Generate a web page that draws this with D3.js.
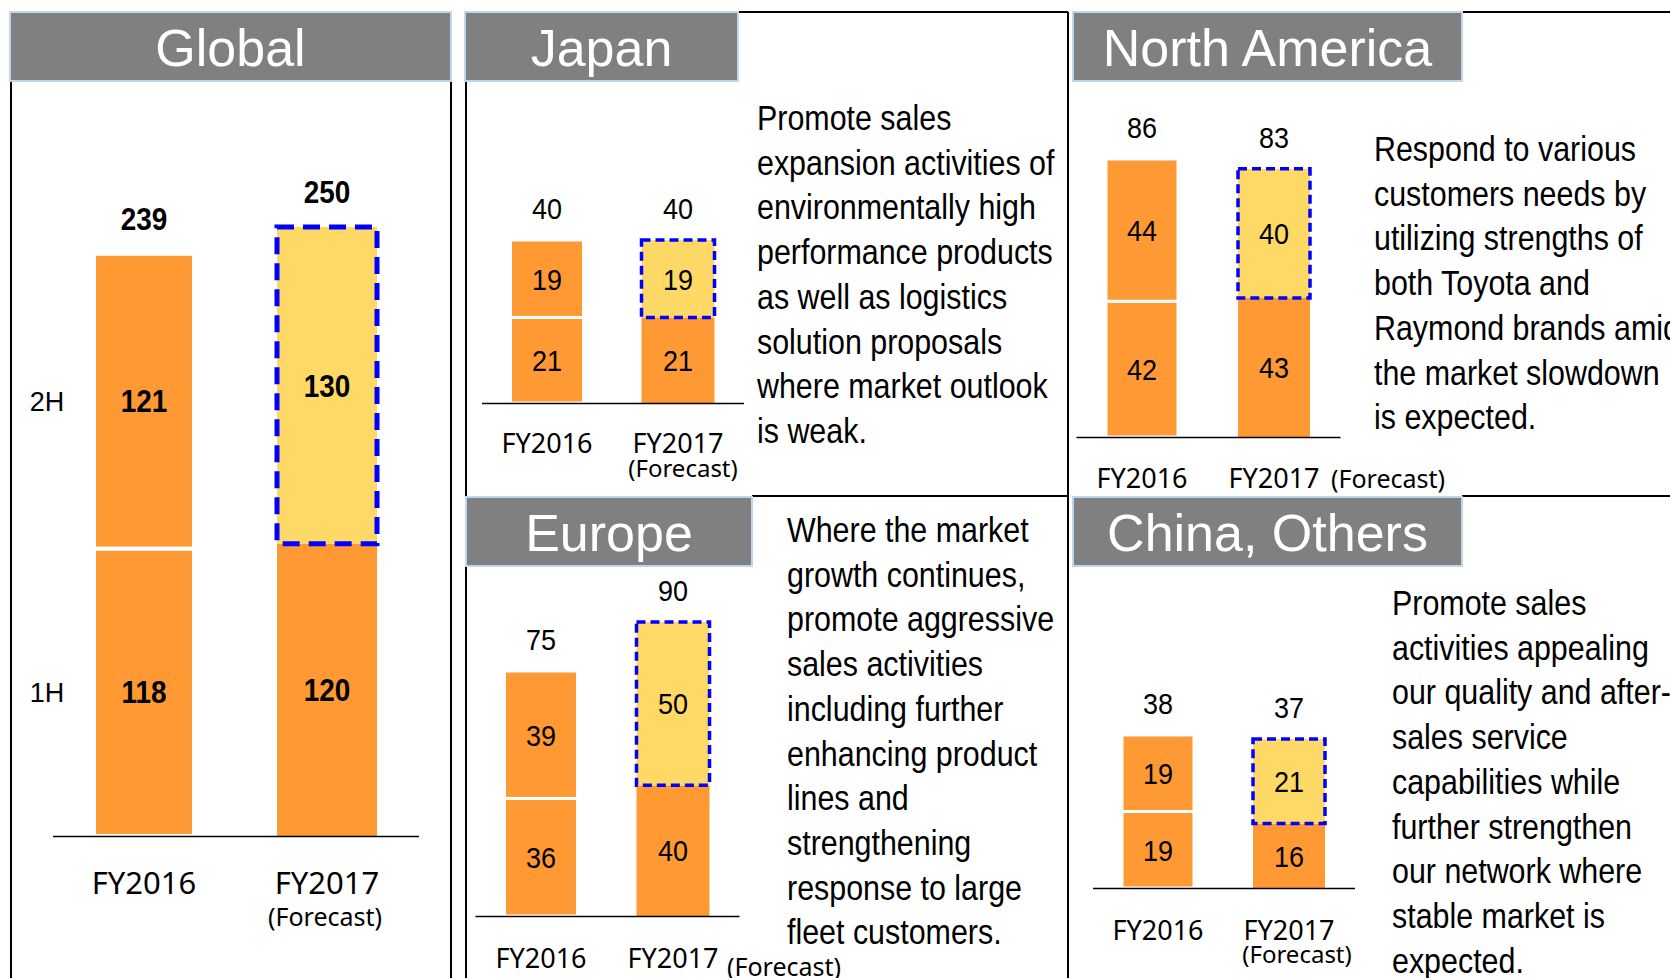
<!DOCTYPE html>
<html>
<head>
<meta charset="utf-8">
<script src="https://cdn.jsdelivr.net/npm/d3@7"></script>
<style>
  body { margin: 0; background: #fff; }
  svg { display: block; }
</style>
</head>
<body>
<div class="canva"></div>
<script>
// values (thousand units)
const regions = ["Global", "Japan", "North America", "Europe", "China, Others"];
const years = ["FY2016", "FY2017"];
const firstHalf = [[118, 120], [21, 21], [42, 43], [36, 40], [19, 16]];
const secondHalf = [[121, 130], [19, 19], [44, 40], [39, 50], [19, 21]];
const halfLabels = ["1H", "2H"];
const forecastLabel = "(Forecast)";
const notes = [
  [],
  ["Promote sales", "expansion activities of", "environmentally high", "performance products",
   "as well as logistics", "solution proposals", "where market outlook", "is weak."],
  ["Respond to various", "customers needs by", "utilizing strengths of", "both Toyota and",
   "Raymond brands amid", "the market slowdown", "is expected."],
  ["Where the market", "growth continues,", "promote aggressive", "sales activities",
   "including further", "enhancing product", "lines and", "strengthening",
   "response to large", "fleet customers."],
  ["Promote sales", "activities appealing", "our quality and after-", "sales service",
   "capabilities while", "further strengthen", "our network where", "stable market is", "expected."]
];

// no Arial Narrow here, so squeeze Liberation Sans horizontally
const SANS = '"Liberation Sans", Arial, sans-serif';
const LABEL = '"Noto Sans", "Open Sans", sans-serif';
const ORANGE = "#FF9933", YELLOW = "#FFD966", BLUE = "#0000FF";

// where each panel sits
const layout = [
  { head: [10, 12, 441, 69], centers: [144, 327], barW: 100, base: 836, top: 227, big: true,
    labelY: 894, fcMode: "below", fcX: -2, fcY: 926, fcSize: 25 },
  { head: [465, 12, 273, 69], centers: [547, 678], barW: 73, base: 403, top: 240,
    labelY: 453, fcMode: "below", fcX: 5, fcY: 477, fcSize: 24, noteX: 757, noteY: 130 },
  { head: [1073, 12, 389, 69], centers: [1142, 1274], barW: 72, base: 437, top: 159,
    labelY: 488, fcMode: "right", fcX: 57, fcY: 488, fcSize: 25, noteX: 1374, noteY: 161 },
  { head: [466, 497, 286, 69], centers: [541, 673], barW: 73, base: 916, top: 622,
    labelY: 968, fcMode: "right", fcX: 54, fcY: 976, fcSize: 25, noteX: 787, noteY: 542 },
  { head: [1073, 497, 389, 69], centers: [1158, 1289], barW: 72, base: 888, top: 735,
    labelY: 940, fcMode: "below", fcX: 8, fcY: 963, fcSize: 24, noteX: 1392, noteY: 615 }
];

const frame = [
  [11, 81, 11, 978], [451, 81, 451, 978],
  [466, 81, 466, 496], [738, 12, 1068, 12], [752, 496, 1068, 496], [466, 566, 466, 978],
  [1068, 12, 1068, 978], [1462, 12, 1670, 12], [1462, 496, 1670, 496]
];

const svg = d3.select(".canva").append("svg")
  .attr("width", 1670)
  .attr("height", 978);

svg.selectAll("line.frame")
  .data(frame)
  .enter().append("line")
  .attr("class", "frame")
  .attr("x1", d => d[0]).attr("y1", d => d[1])
  .attr("x2", d => d[2]).attr("y2", d => d[3])
  .attr("stroke", "#000")
  .attr("stroke-width", 2);

const squeeze = (k, fx, fy) => (d, i) => `translate(${fx(d, i)},${fy(d, i)}) scale(${k},1)`;

regions.forEach((name, r) => {
  const L = layout[r];
  const g = svg.append("g");

  // header box
  g.append("rect")
    .attr("x", L.head[0]).attr("y", L.head[1])
    .attr("width", L.head[2]).attr("height", L.head[3])
    .attr("fill", "#808080")
    .attr("stroke", "#BDD7EE")
    .attr("stroke-width", 2);
  g.append("text")
    .attr("x", L.head[0] + L.head[2] / 2)
    .attr("y", L.head[1] + 54)
    .attr("text-anchor", "middle")
    .attr("font-family", SANS)
    .attr("font-size", 52)
    .attr("fill", "#fff")
    .text(name);

  const table = years.map((yr, i) => ({ year: yr, h1: firstHalf[r][i], h2: secondHalf[r][i] }));
  const totals = table.map(d => d.h1 + d.h2);

  const y = d3.scaleLinear()
    .domain([0, d3.max(totals)])
    .range([L.base, L.top]);

  const step = L.centers[1] - L.centers[0];
  const pad = 1 - L.barW / step;
  const x = d3.scaleBand()
    .domain(years)
    .range([L.centers[0] - step / 2, L.centers[1] + step / 2])
    .paddingInner(pad)
    .paddingOuter(pad / 2);

  const series = d3.stack().keys(["h1", "h2"])(table);

  series.forEach(s => {
    g.selectAll("rect.seg-" + s.key)
      .data(s)
      .enter().append("rect")
      .attr("x", d => x(d.data.year))
      .attr("y", d => y(d[1]))
      .attr("width", x.bandwidth())
      .attr("height", d => y(d[0]) - y(d[1]))
      .attr("fill", (d, i) => (i === 1 && s.key === "h2") ? YELLOW : ORANGE)
      .attr("stroke", (d, i) => i === 0 ? "#fff" : "none")
      .attr("stroke-width", L.big ? 4 : 3);
  });

  // forecast outline on FY2017 2H
  const fc = series[1][1];
  g.append("rect")
    .attr("x", x(fc.data.year))
    .attr("y", y(fc[1]))
    .attr("width", x.bandwidth())
    .attr("height", y(fc[0]) - y(fc[1]))
    .attr("fill", "none")
    .attr("stroke", BLUE)
    .attr("stroke-width", L.big ? 5 : 3.5)
    .attr("stroke-dasharray", L.big ? "17,9" : "9,5");

  const numSize = L.big ? 31 : 30;
  const numWeight = L.big ? "bold" : "normal";
  const numK = 0.9;

  // segment values
  series.forEach(s => {
    g.selectAll("text.val-" + s.key)
      .data(s)
      .enter().append("text")
      .attr("transform", squeeze(numK, d => x(d.data.year) + x.bandwidth() / 2,
                                 d => (y(d[0]) + y(d[1])) / 2))
      .attr("dy", "0.36em")
      .attr("text-anchor", "middle")
      .attr("font-family", SANS)
      .attr("font-weight", numWeight)
      .attr("font-size", numSize)
      .text(d => d[1] - d[0]);
  });

  // totals
  g.selectAll("text.total")
    .data(table)
    .enter().append("text")
    .attr("transform", squeeze(numK, d => x(d.year) + x.bandwidth() / 2,
                               (d, i) => y(totals[i]) - (L.big ? 35 : 32)))
    .attr("dy", "0.36em")
    .attr("text-anchor", "middle")
    .attr("font-family", SANS)
    .attr("font-weight", numWeight)
    .attr("font-size", numSize)
    .text((d, i) => totals[i]);

  // 1H / 2H row labels on the global chart
  if (L.big) {
    g.selectAll("text.half")
      .data(series)
      .enter().append("text")
      .attr("x", 47)
      .attr("y", s => (y(s[0][0]) + y(s[0][1])) / 2)
      .attr("dy", "0.36em")
      .attr("text-anchor", "middle")
      .attr("font-family", SANS)
      .attr("font-size", 27)
      .text((s, i) => halfLabels[i]);
  }

  // x axis
  const axis = g.append("g")
    .attr("transform", `translate(0,${L.base})`)
    .call(d3.axisBottom(x).tickSize(0).tickSizeOuter(0));
  axis.select(".domain").attr("stroke", "#000").attr("stroke-width", 1.5);
  axis.selectAll(".tick text")
    .attr("y", L.labelY - L.base)
    .attr("dy", null)
    .attr("fill", "#000")
    .attr("font-family", LABEL)
    .attr("font-size", L.big ? 31 : 27);

  const cx = x(years[1]) + x.bandwidth() / 2;
  g.append("text")
    .attr("x", cx + L.fcX)
    .attr("y", L.fcY)
    .attr("text-anchor", L.fcMode === "below" ? "middle" : "start")
    .attr("font-family", LABEL)
    .attr("font-size", L.fcSize)
    .text(forecastLabel);

  // commentary
  g.selectAll("text.note")
    .data(notes[r])
    .enter().append("text")
    .attr("transform", squeeze(0.845, () => L.noteX, (d, i) => L.noteY + i * 44.7))
    .attr("font-family", SANS)
    .attr("font-size", 36)
    .text(d => d);
});
</script>
</body>
</html>
